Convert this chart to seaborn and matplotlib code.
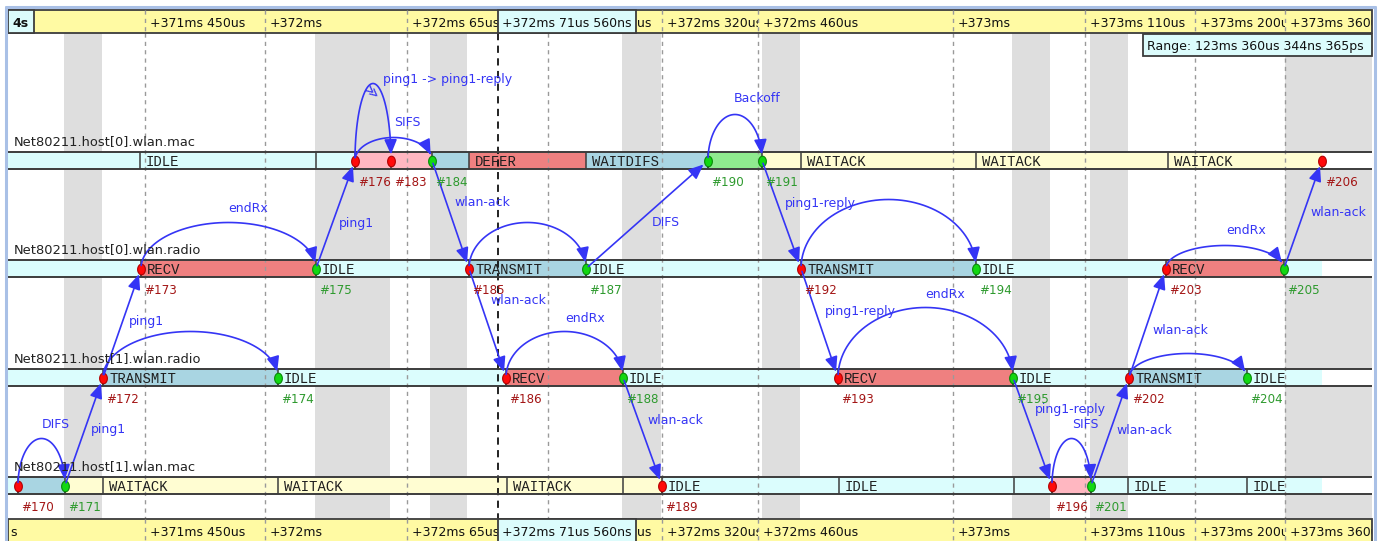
import numpy as np
import pandas as pd
import matplotlib
matplotlib.use('Agg')
import matplotlib.pyplot as plt
from matplotlib.patches import Rectangle, FancyArrowPatch
from matplotlib.path import Path
import seaborn as sns

# ---------------- data ----------------
lane_names = ['Net80211.host[0].wlan.mac', 'Net80211.host[0].wlan.radio',
              'Net80211.host[1].wlan.radio', 'Net80211.host[1].wlan.mac']

# events: id, lane, position on the (non linear) timeline, kind (r = red, g = green)
event_ids = [170, 171, 172, 173, 174, 175, 176, 183, 184, 185, 186, 187, 188, 189,
             190, 191, 192, 193, 194, 195, 196, 201, 202, 203, 204, 205, 206]
event_lane = [3, 3, 2, 1, 2, 1, 0, 0, 0, 1, 2, 1, 2, 3,
              0, 0, 1, 2, 1, 2, 3, 3, 2, 1, 2, 1, 0]
event_pos = [18, 65, 103, 141, 278, 316, 355, 391, 432, 469, 506, 586, 623, 662,
             708, 762, 801, 838, 976, 1013, 1052, 1091, 1129, 1166, 1247, 1284, 1322]
event_kind = ['r', 'g', 'r', 'r', 'g', 'g', 'r', 'r', 'g', 'r', 'r', 'g', 'g', 'r',
              'g', 'g', 'r', 'r', 'g', 'g', 'r', 'g', 'r', 'r', 'g', 'g', 'r']

# state segments per lane: start positions, state, label
mac0_start = [8, 140, 316, 355, 432, 469, 586, 708, 762, 801, 976, 1168, 1322]
mac0_state = ['idle', 'idle', 'idle', 'pink', 'blue', 'red', 'blue', 'green', 'yellow',
              'yellow', 'yellow', 'yellow', 'none']
mac0_label = ['', 'IDLE', '', '', '', 'DEFER', 'WAITDIFS', '', '', 'WAITACK', 'WAITACK',
              'WAITACK', '']

radio0_start = [8, 141, 316, 469, 586, 801, 976, 1166, 1284, 1322]
radio0_state = ['idle', 'red', 'idle', 'blue', 'idle', 'blue', 'idle', 'red', 'idle', 'none']
radio0_label = ['', 'RECV', 'IDLE', 'TRANSMIT', 'IDLE', 'TRANSMIT', 'IDLE', 'RECV', '', '']

radio1_start = [8, 103, 278, 506, 623, 838, 1013, 1129, 1247, 1322]
radio1_state = ['idle', 'blue', 'idle', 'red', 'idle', 'red', 'idle', 'blue', 'idle', 'none']
radio1_label = ['', 'TRANSMIT', 'IDLE', 'RECV', 'IDLE', 'RECV', 'IDLE', 'TRANSMIT', 'IDLE', '']

mac1_start = [8, 18, 65, 103, 278, 507, 623, 662, 839, 1014, 1052, 1091, 1128, 1247, 1322]
mac1_state = ['idle', 'blue', 'yellow', 'yellow', 'yellow', 'yellow', 'yellow', 'idle',
              'idle', 'idle', 'pink', 'idle', 'idle', 'idle', 'none']
mac1_label = ['', '', '', 'WAITACK', 'WAITACK', 'WAITACK', '', 'IDLE', 'IDLE', '', '', '',
              'IDLE', 'IDLE', '']

# messages between lanes (source event, target event, name)
send_src = [171, 172, 175, 184, 185, 187, 191, 192, 188, 195, 201, 202, 205]
send_dst = [172, 173, 176, 185, 186, 190, 192, 193, 189, 196, 202, 203, 206]
send_name = ['ping1', 'ping1', 'ping1', 'wlan-ack', 'wlan-ack', 'DIFS', 'ping1-reply',
             'ping1-reply', 'wlan-ack', 'ping1-reply', 'wlan-ack', 'wlan-ack', 'wlan-ack']

# self messages (arcs)
self_src = [170, 172, 173, 176, 176, 185, 186, 190, 192, 193, 196, 202, 203]
self_dst = [171, 174, 175, 183, 184, 187, 188, 191, 194, 195, 201, 204, 205]
self_name = ['DIFS', '', 'endRx', 'ping1 -> ping1-reply', 'SIFS', '', 'endRx', 'Backoff',
             '', 'endRx', 'SIFS', '', 'endRx']
self_split = [False, False, False, True, False, False, False, False, False, False, False,
              False, False]

# time axis
tick_pos = [145, 265, 407, 548, 662, 758, 953, 1085, 1195, 1285]
tick_labels = ['+371ms 450us', '+372ms', '+372ms 65us', '+372ms 160us', '+372ms 320us',
               '+372ms 460us', '+373ms', '+373ms 110us', '+373ms 200us', '+373ms 360us']
cursor_pos = 498
cursor_label = '+372ms 71us 560ns'
range_label = 'Range: 123ms 360us 344ns 365ps'
band_start = [64, 315, 430, 622, 762, 1012, 1090, 1285]
band_end = [102, 390, 467, 661, 800, 1050, 1128, 1372]

# ---------------- layout / style ----------------
W, H = 1385, 541
X0, X1 = 8, 1372
Y_TOP, Y_BOT = 33, 519
lane_top = [152, 260, 369, 477]
BAR_H = 17
CURSOR_W = 138
send_label_xy = [(108, 430), (146, 322), (356, 223), (482, 202), (518, 301), (666, 222),
                 (820, 203), (860, 312), (675, 420), (1070, 410), (1144, 430), (1180, 331),
                 (1338, 212)]
self_label_xy = [(56, 425), None, (248, 208), (448, 79), (407, 122), None, (585, 318),
                 (757, 99), None, (945, 295), (1085, 425), None, (1246, 231)]
self_height = [47, 46, 46, 77, 23, 46, 46, 46, 69, 70, 47, 24, 23]

state_colors = {'idle': '#dbfdfd', 'blue': '#a9d5e2', 'red': '#ef8080', 'pink': '#ffb7c1',
                'green': '#8fea8f', 'yellow': '#fffdd2', 'none': 'white'}
BLUE = '#3535f5'
DARK = '#3c3c3c'
AXIS_YELLOW = '#fffaa3'
CYAN_BOX = '#dcfcfc'

sns.set_theme(style='white')
plt.rcParams['font.family'] = ['DejaVu Sans']

fig = plt.figure(figsize=(W / 100, H / 100), dpi=100)
ax = fig.add_axes([0, 0, 1, 1])

# frame
ax.plot([6, 6], [7, H], color='#a9c0e6', lw=2.2, zorder=20)
ax.plot([6, 1374.5], [7, 7], color='#a9c0e6', lw=2.2, zorder=20)
ax.plot([1374.5, 1374.5], [7, H], color='#a9c0e6', lw=2.2, zorder=20)

# gray background bands
ax.bar(x=band_start, height=Y_BOT - Y_TOP, bottom=Y_TOP,
       width=np.array(band_end) - np.array(band_start), align='edge',
       color='#dedede', linewidth=0, zorder=1)

# grid lines
ax.vlines(tick_pos, Y_TOP, Y_BOT, colors='#9a9a9a', linestyles=(0, (3, 3)), lw=1, zorder=3)
ax.vlines([cursor_pos], Y_TOP, Y_BOT, colors='#111111', linestyles=(0, (4, 3)), lw=1.3, zorder=3)

# lanes
lane_segments = [(mac0_start, mac0_state, mac0_label),
                 (radio0_start, radio0_state, radio0_label),
                 (radio1_start, radio1_state, radio1_label),
                 (mac1_start, mac1_state, mac1_label)]
for li, (starts, states, labels) in enumerate(lane_segments):
    top = lane_top[li]
    ends = starts[1:] + [X1]
    widths = np.array(ends) - np.array(starts)
    ax.barh(y=[top] * len(starts), width=widths, left=starts, height=BAR_H, align='edge',
            color=[state_colors[s] for s in states], linewidth=0, zorder=2)
    ax.hlines([top, top + BAR_H], X0, X1, colors=DARK, lw=1.4, zorder=4)
    div = [s for s, st in zip(starts[1:], states[1:]) if st != 'none']
    ax.vlines(div, top, top + BAR_H, colors=DARK, lw=1.1, zorder=4)
    for s, e, lab in zip(starts, ends, labels):
        if lab:
            t = ax.text(s + 6, top + BAR_H - 3, lab, fontfamily='Liberation Mono',
                        fontsize=10, va='baseline', color='#1e1e1e', zorder=5, clip_on=True)
            t.set_clip_path(Rectangle((s, top), e - s, BAR_H, transform=ax.transData))
    ax.text(14, top - 7, lane_names[li], fontsize=9.4, va='baseline', color='#222222', zorder=8)

# events
ev = pd.DataFrame({'id': event_ids, 'lane': event_lane, 'pos': event_pos, 'kind': event_kind})
ev['y'] = ev['lane'].map(lambda l: lane_top[l] + BAR_H / 2)
ev_pos = dict(zip(ev['id'], zip(ev['pos'], ev['y'])))
ax.vlines(ev['pos'], ev['y'], ev['y'] + BAR_H / 2, colors=DARK, lw=1.1, zorder=4)

tt = np.linspace(0, 2 * np.pi, 41)
ell = Path(np.column_stack([0.73 * np.cos(tt), np.sin(tt)]), closed=True)
for kind, fc, ec in [('r', '#ff0a0a', '#b00000'), ('g', '#12d812', '#078a07')]:
    sub = ev[ev['kind'] == kind]
    sns.scatterplot(data=sub, x='pos', y='y', marker=ell, s=58, color=fc, edgecolor=ec,
                    linewidth=0.8, ax=ax, legend=False, zorder=6)

for _, r in ev.iterrows():
    col = '#a31515' if r['kind'] == 'r' else '#2e9a2e'
    ax.text(r['pos'] + 3.5, lane_top[r['lane']] + BAR_H + 17, f"#{r['id']}", fontsize=8.6,
            va='baseline', color=col, zorder=8)

arrow_style = '-|>,head_length=0.75,head_width=0.32'

# sends
for s, d, name, lxy in zip(send_src, send_dst, send_name, send_label_xy):
    p0 = np.array(ev_pos[s], dtype=float)
    p1 = np.array(ev_pos[d], dtype=float)
    u = (p1 - p0) / np.linalg.norm(p1 - p0)
    a = FancyArrowPatch(posA=tuple(p0 + 3 * u), posB=tuple(p1 - 6 * u), arrowstyle=arrow_style,
                        mutation_scale=12, color=BLUE, lw=1.2, shrinkA=0, shrinkB=0, zorder=7)
    ax.add_patch(a)
    ax.text(lxy[0], lxy[1], name, fontsize=9, ha='center', va='center', color=BLUE, zorder=8)

# self messages
for s, d, name, lxy, h, split in zip(self_src, self_dst, self_name, self_label_xy,
                                     self_height, self_split):
    x0, cy = ev_pos[s]
    x1, _ = ev_pos[d]
    cx, ra = (x0 + x1) / 2, (x1 - x0) / 2
    t0 = np.pi - np.arcsin(3 / h)
    t1 = np.arcsin(6 / h)
    t = np.linspace(t0, t1, 60)
    pts = np.column_stack([cx + ra * np.cos(t), cy - h * np.sin(t)])
    a = FancyArrowPatch(path=Path(pts), arrowstyle=arrow_style, mutation_scale=12,
                        color=BLUE, lw=1.2, zorder=7)
    ax.add_patch(a)
    if lxy is not None:
        ax.text(lxy[0], lxy[1], name, fontsize=9, ha='center', va='center', color=BLUE, zorder=8)
    if split:
        # split marker on the long arc
        ax.text(cx - 2, cy - h + 9, '\u226b', fontsize=10, rotation=-40, ha='center',
                va='center', color=BLUE, zorder=8)

# time axes (top and bottom)
cursor_end = cursor_pos + CURSOR_W
for ytop, first in [(10, '4s'), (Y_BOT, 's')]:
    ax.add_patch(Rectangle((X0, ytop), X1 - X0, 23, fc=AXIS_YELLOW, ec=DARK, lw=1.3, zorder=10))
    ax.vlines(tick_pos, ytop, ytop + 23, colors='#9a9a9a', linestyles=(0, (3, 3)), lw=1, zorder=11)
    nexts = tick_pos[1:] + [X1]
    for tp, nx, lab in zip(tick_pos, nexts, tick_labels):
        if cursor_pos <= tp < cursor_end:
            # label mostly hidden under the cursor box: only its unit tail shows
            t = ax.text(cursor_end + 1, ytop + 17, lab[-2:], fontsize=9, va='baseline',
                        color='#111111', zorder=11, clip_on=True)
            t.set_clip_path(Rectangle((cursor_end, ytop), nx - cursor_end, 23,
                                      transform=ax.transData))
            continue
        right = min(nx, cursor_pos) if tp < cursor_pos else nx
        t = ax.text(tp + 5, ytop + 17, lab, fontsize=9, va='baseline', color='#111111',
                    zorder=11, clip_on=True)
        t.set_clip_path(Rectangle((tp, ytop), right - tp, 23, transform=ax.transData))
    if first == '4s':
        ax.add_patch(Rectangle((X0, ytop), 26, 23, fc=CYAN_BOX, ec=DARK, lw=1.3, zorder=12))
        ax.text(12, ytop + 17, first, fontsize=9, fontweight='bold', va='baseline',
                color='#111111', zorder=13)
    else:
        ax.text(10, ytop + 17, first, fontsize=9, va='baseline', color='#111111', zorder=13)
    ax.add_patch(Rectangle((cursor_pos, ytop), CURSOR_W, 23, fc=CYAN_BOX, ec=DARK, lw=1.3,
                           zorder=12))
    ax.text(cursor_pos + 4, ytop + 17, cursor_label, fontsize=9, va='baseline',
            color='#111111', zorder=13)

# range box
ax.add_patch(Rectangle((1143, 34), 229, 22, fc=CYAN_BOX, ec=DARK, lw=1.3, zorder=12))
ax.text(1147, 50, range_label, fontsize=9, va='baseline', color='#111111', zorder=13)

ax.set_xlim(0, W)
ax.set_ylim(H, 0)
ax.set_axis_off()
fig.savefig('out.png', dpi=100, facecolor='white')
